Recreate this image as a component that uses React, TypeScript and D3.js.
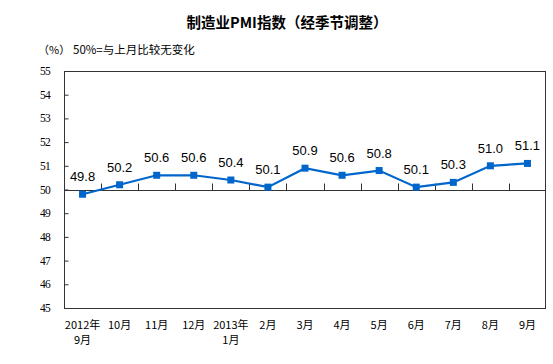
import React, { useEffect, useRef } from 'react'
import * as d3 from 'd3'

const categories = ['2012年\n9月', '10月', '11月', '12月', '2013年\n1月', '2月', '3月', '4月', '5月', '6月', '7月', '8月', '9月']
const pmiValues = [49.8, 50.2, 50.6, 50.6, 50.4, 50.1, 50.9, 50.6, 50.8, 50.1, 50.3, 51.0, 51.1]
const yTicks = [45, 46, 47, 48, 49, 50, 51, 52, 53, 54, 55]

const width = 553
const height = 364
const margin = { top: 71, right: 7, bottom: 56, left: 64 }
const blue = '#0066cc'
const cjk = '"Noto Sans CJK SC", sans-serif'

export default function App() {
    const svgNode = useRef<SVGSVGElement>(null)

    useEffect(() => {
        const svg = d3.select(svgNode.current)
        svg.selectAll('*').remove()

        const x = d3.scaleBand()
            .domain(categories.map((d, i) => String(i)))
            .range([margin.left, width - margin.right])
        const y = d3.scaleLinear()
            .domain([45, 55])
            .range([height - margin.bottom, margin.top])
        const cx = (i: number) => x(String(i))! + x.bandwidth() / 2

        // title + notes
        svg.append('text')
            .attr('x', 287).attr('y', 28)
            .attr('text-anchor', 'middle')
            .style('font-family', cjk).style('font-weight', 'bold').style('font-size', '14.5px')
            .attr('fill', '#000')
            .text('制造业PMI指数（经季节调整）')
        svg.append('text')
            .attr('x', 38).attr('y', 54)
            .style('font-family', cjk).style('font-size', '11px')
            .text('（%）')
        svg.append('text')
            .attr('x', 73).attr('y', 54)
            .style('font-family', cjk).style('font-size', '11.5px')
            .text('50%=与上月比较无变化')

        // frame
        svg.append('rect')
            .attr('x', margin.left + 0.5).attr('y', margin.top + 0.5)
            .attr('width', width - margin.left - margin.right - 1)
            .attr('height', height - margin.top - margin.bottom)
            .attr('fill', 'none').attr('stroke', '#333').attr('stroke-width', 1)

        // y axis
        const yAxis = d3.axisRight(y).tickValues(yTicks).tickSize(4).tickFormat(() => '')
        const yg = svg.append('g')
            .attr('transform', `translate(${margin.left + 0.5},0)`)
            .call(yAxis)
        yg.select('.domain').remove()
        yg.selectAll('line').attr('stroke', '#333')

        svg.selectAll('.ylab')
            .data(yTicks)
            .join('text')
            .attr('class', 'ylab')
            .attr('x', 50).attr('y', d => y(d) + 4)
            .attr('text-anchor', 'end')
            .style('font-family', '"Liberation Serif", serif').style('font-size', '11.5px')
            .style('letter-spacing', '-0.8px')
            .text(d => d)

        // 50 baseline with category ticks
        const y50 = Math.round(y(50)) + 0.5
        svg.append('line')
            .attr('x1', margin.left).attr('x2', width - margin.right)
            .attr('y1', y50).attr('y2', y50)
            .attr('stroke', '#333')
        svg.selectAll('.xtick')
            .data(categories.slice(1))
            .join('line')
            .attr('class', 'xtick')
            .attr('x1', (d, i) => Math.round(x(String(i + 1))!) + 0.5)
            .attr('x2', (d, i) => Math.round(x(String(i + 1))!) + 0.5)
            .attr('y1', y50).attr('y2', y50 - 7)
            .attr('stroke', '#333')

        // x labels
        const xl = svg.selectAll('.xlab')
            .data(categories)
            .join('text')
            .attr('class', 'xlab')
            .attr('text-anchor', 'middle')
            .style('font-family', cjk).style('font-size', '11px')
        xl.selectAll('tspan')
            .data((d, i) => d.split('\n').map(s => ({ s, i })))
            .join('tspan')
            .attr('x', d => cx(d.i))
            .attr('y', (d, j) => 329 + j * 15)
            .text(d => d.s)

        // line + markers
        const line = d3.line<number>()
            .x((d, i) => cx(i))
            .y(d => y(d))
        svg.append('path')
            .datum(pmiValues)
            .attr('d', line)
            .attr('fill', 'none').attr('stroke', blue).attr('stroke-width', 2.2)
        svg.selectAll('.mark')
            .data(pmiValues)
            .join('rect')
            .attr('class', 'mark')
            .attr('x', (d, i) => cx(i) - 3.5).attr('y', d => y(d) - 3.5)
            .attr('width', 7).attr('height', 7)
            .attr('fill', blue)

        svg.selectAll('.vlab')
            .data(pmiValues)
            .join('text')
            .attr('class', 'vlab')
            .attr('x', (d, i) => cx(i)).attr('y', d => y(d) - 13)
            .attr('text-anchor', 'middle')
            .style('font-family', '"Liberation Sans", Arial, sans-serif').style('font-size', '13px')
            .text(d => d.toFixed(1))
    }, [])

    return (
        <svg ref={svgNode} width={width} height={height}
            style={{ position: 'absolute', left: 0, top: 0, background: '#fff' }} />
    )
}
